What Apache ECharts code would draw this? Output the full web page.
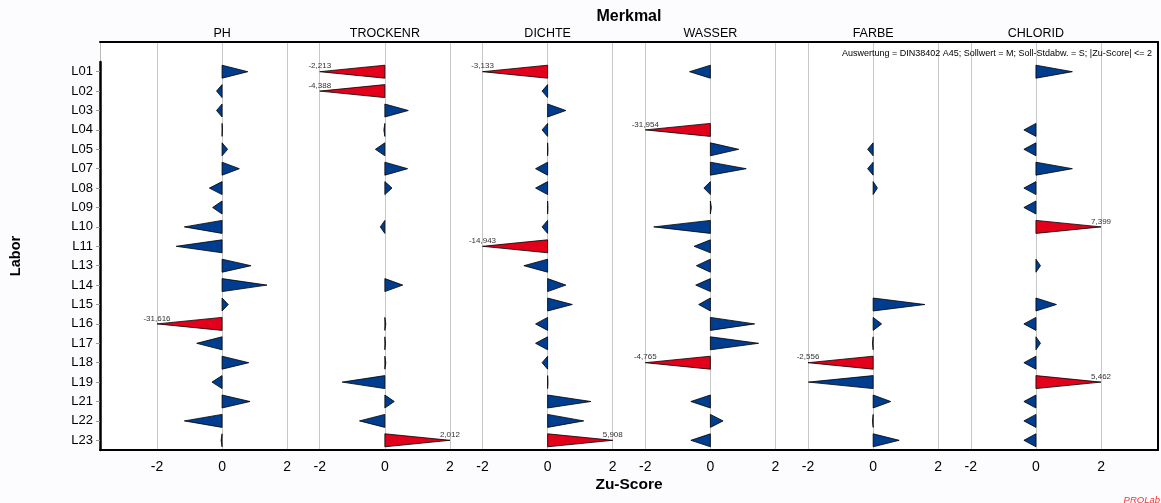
<!DOCTYPE html>
<html>
<head>
<meta charset="utf-8">
<script src="https://cdn.jsdelivr.net/npm/echarts@6/dist/echarts.min.js"></script>
<style>
  html, body { margin: 0; padding: 0; background: #ffffff; }
  #chart { width: 1161px; height: 503px; }
</style>
</head>
<body>
<div id="chart"></div>
<script>
// Laboratories (rows) and characteristics (panels)
const labs = ['L01','L02','L03','L04','L05','L07','L08','L09','L10','L11','L13','L14','L15','L16','L17','L18','L19','L21','L22','L23'];
const merkmale = ['PH', 'TROCKENR', 'DICHTE', 'WASSER', 'FARBE', 'CHLORID'];

// Z-scores per characteristic, one entry per lab (null = no result)
const ph       = [0.79, -0.17, -0.17, 0.01, 0.17, 0.53, -0.39, -0.29, -1.16, -1.41, 0.89, 1.38, 0.19, -31.616, -0.78, 0.82, -0.31, 0.86, -1.16, -0.03];
const trockenr = [-2.213, -4.388, 0.72, -0.03, -0.29, 0.70, 0.22, null, -0.14, null, null, 0.55, null, 0.03, 0.02, 0.03, -1.31, 0.29, -0.78, 2.012];
const dichte   = [-3.133, -0.17, 0.56, -0.17, 0.01, -0.37, -0.37, 0.01, -0.17, -14.943, -0.73, 0.56, 0.76, -0.37, -0.37, -0.17, 0.01, 1.33, 1.11, 5.908];
const wasser   = [-0.64, null, null, -31.954, 0.87, 1.10, -0.20, 0.03, -1.74, -0.50, -0.43, -0.45, -0.36, 1.36, 1.48, -4.765, null, -0.60, 0.39, -0.60];
const farbe    = [null, null, null, null, -0.17, -0.17, 0.13, null, null, null, null, null, 1.59, 0.26, -0.02, -2.556, -1.99, 0.54, -0.02, 0.80];
const chlorid  = [1.12, null, null, -0.37, -0.37, 1.12, -0.37, -0.37, 7.399, null, 0.14, null, 0.63, -0.37, 0.14, -0.37, 5.462, -0.37, -0.37, -0.37];

const scores = [ph, trockenr, dichte, wasser, farbe, chlorid];
const panelTicks = [-2, 0, 2];
const zLimit = 2;

const panelSpan = 5;                 // width of one panel in z units
const xMin = -3.75;
const xMax = (merkmale.length - 1) * panelSpan + 3.75;

const BLUE = '#003d8f';
const RED = '#e2001a';
const FONT = '"Liberation Sans", Arial, sans-serif';

const tickValues = merkmale.flatMap((m, i) => panelTicks.map(t => i * panelSpan + t));
const centerValues = merkmale.map((m, i) => i * panelSpan);

const fmtScore = v => v.toFixed(3).replace('.', ',');

function renderTriangle(params, api) {
  const m = api.value(0);
  const row = api.value(1);
  const v = api.value(2);
  const off = m * panelSpan;
  const shown = Math.max(-zLimit, Math.min(zLimit, v));
  const base = api.coord([off, row]);
  const tip = api.coord([off + shown, row]);
  const half = api.size([0, 1])[1] * 0.335;
  const outside = Math.abs(v) > zLimit;
  const children = [{
    type: 'polygon',
    shape: { points: [[base[0], base[1] - half], [base[0], base[1] + half], [tip[0], tip[1]]] },
    style: { fill: outside ? RED : BLUE, stroke: '#000', lineWidth: 0.8 }
  }];
  if (outside) {
    children.push({
      type: 'text',
      style: {
        text: fmtScore(v), x: tip[0], y: tip[1] - 1.5,
        align: 'center', verticalAlign: 'bottom',
        font: '8px ' + FONT, fill: '#333'
      }
    });
  }
  return { type: 'group', children };
}

const series = merkmale.map((name, m) => ({
  type: 'custom',
  name,
  xAxisIndex: 2,
  yAxisIndex: 2,
  renderItem: renderTriangle,
  data: scores[m].map((v, r) => v === null ? null : [m, r, v]).filter(d => d !== null)
}));

const chart = echarts.init(document.getElementById('chart'), null, { renderer: 'canvas' });
chart.setOption({
  backgroundColor: '#fcfcfe',
  animation: false,
  textStyle: { fontFamily: FONT },
  title: [
    {
      text: 'Auswertung = DIN38402 A45; Sollwert = M; Soll-Stdabw. = S; |Zu-Score| <= 2',
      right: 9, top: 49, padding: 0,
      textStyle: { fontSize: 9, fontWeight: 'normal', color: '#000', fontFamily: FONT }
    },
    {
      text: 'PROLab',
      right: 1, top: 495, padding: 0,
      textStyle: { fontSize: 9.5, fontWeight: 'normal', fontStyle: 'italic', color: '#ff3030', fontFamily: FONT }
    }
  ],
  grid: [
    { left: 100, right: 3, top: 42, bottom: 53, outerBoundsMode: 'none', containLabel: false,
      show: true, backgroundColor: '#ffffff', borderWidth: 0 },
    { left: 100, right: 3, top: 62, bottom: 53, outerBoundsMode: 'none', containLabel: false }
  ],
  xAxis: [
    {
      gridIndex: 0, type: 'value', position: 'bottom', min: xMin, max: xMax,
      axisLine: { show: true, onZero: false, lineStyle: { color: '#000', width: 2 } },
      axisTick: { show: false, customValues: tickValues },
      axisLabel: {
        customValues: tickValues, fontSize: 14, color: '#000', margin: 10,
        formatter: v => String(Math.round(v - panelSpan * Math.round(v / panelSpan)))
      },
      splitLine: { show: true, lineStyle: { color: '#c8c8c8', width: 1 } },
      name: 'Zu-Score', nameLocation: 'middle', nameGap: 27, nameMoveOverlap: false,
      nameTextStyle: { fontSize: 15.5, fontWeight: 'bold', color: '#000' }
    },
    {
      gridIndex: 0, type: 'value', position: 'top', min: xMin, max: xMax,
      axisLine: { show: true, onZero: false, lineStyle: { color: '#000', width: 2 } },
      axisTick: { show: false },
      axisLabel: {
        customValues: centerValues, fontSize: 12.5, color: '#000', margin: 2,
        formatter: v => merkmale[Math.round(v / panelSpan)]
      },
      splitLine: { show: false },
      name: 'Merkmal', nameLocation: 'middle', nameGap: 17, nameMoveOverlap: false,
      nameTextStyle: { fontSize: 16, fontWeight: 'bold', color: '#000' }
    },
    {
      gridIndex: 1, type: 'value', min: xMin, max: xMax, show: false
    }
  ],
  yAxis: [
    {
      gridIndex: 0, type: 'value', position: 'left', min: 0, max: 1,
      axisLine: { show: true, onZero: false, lineStyle: { color: '#bbbbbb', width: 1 } },
      axisTick: { show: false }, axisLabel: { show: false }, splitLine: { show: false }
    },
    {
      gridIndex: 0, type: 'value', position: 'right', min: 0, max: 1,
      axisLine: { show: true, onZero: false, lineStyle: { color: '#000', width: 2 } },
      axisTick: { show: false }, axisLabel: { show: false }, splitLine: { show: false }
    },
    {
      gridIndex: 1, type: 'category', data: labs, inverse: true, position: 'left',
      axisLine: { show: true, onZero: false, lineStyle: { color: '#000', width: 2.5 } },
      axisTick: { show: true, alignWithLabel: true, length: 4, lineStyle: { color: '#999' } },
      axisLabel: { fontSize: 13, color: '#000', margin: 7 },
      splitLine: { show: false },
      name: 'Labor', nameLocation: 'middle', nameGap: 77, nameRotate: 90, nameMoveOverlap: false,
      nameTextStyle: { fontSize: 14.5, fontWeight: 'bold', color: '#000' }
    }
  ],
  series
});
</script>
</body>
</html>
